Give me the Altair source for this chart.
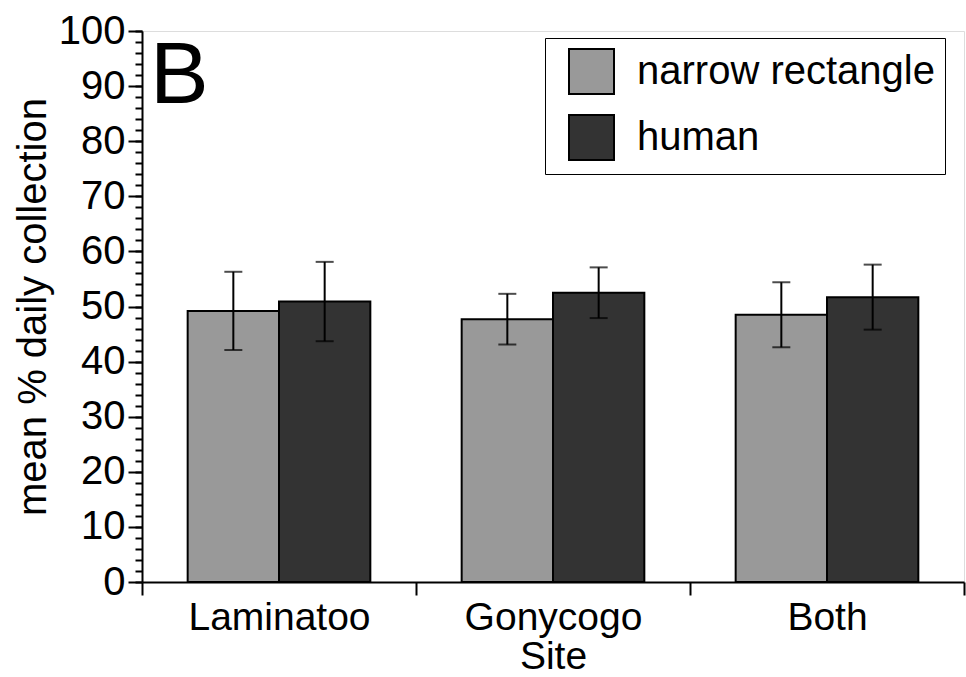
import altair as alt
import pandas as pd

sites = ["Laminatoo", "Gonycogo", "Both"]
series = ["narrow rectangle", "human"]
means_narrow = [49.2, 47.7, 48.5]
means_human = [50.9, 52.5, 51.7]
err_narrow = [7.1, 4.6, 5.9]
err_human = [7.2, 4.6, 5.9]
colors = ["#999999", "#333333"]
y_ticks = list(range(0, 101, 10))
y_minor = list(range(0, 101, 2))
panel_label = ["B"]

rows = []
for i, s in enumerate(sites):
    rows.append({"site": s, "series": series[0], "mean": means_narrow[i], "err": err_narrow[i]})
    rows.append({"site": s, "series": series[1], "mean": means_human[i], "err": err_human[i]})
df = pd.DataFrame(rows)
df["lo"] = df["mean"] - df["err"]
df["hi"] = df["mean"] + df["err"]

FONT = "Liberation Sans"
FS = 39

# site bands fill the full width so axis ticks fall between sites;
# the two bars of a site take the middle two thirds of its band
x_enc = alt.X(
    "site:N",
    sort=sites,
    scale=alt.Scale(paddingInner=0, paddingOuter=0),
    axis=alt.Axis(
        title="Site", labelAngle=0, tickBand="extent", tickSize=13,
        labelPadding=3, titlePadding=0, domainWidth=2, tickWidth=2,
        labelFontSize=FS, titleFontSize=FS, titleFontWeight="normal",
        labelColor="black", titleColor="black", domainColor="black", tickColor="black",
        labelFont=FONT, titleFont=FONT, labelLimit=0,
    ),
)
xo_enc = alt.XOffset("series:N", sort=series, scale=alt.Scale(paddingInner=0, paddingOuter=0.5))
yscale = alt.Scale(domain=[0, 100], nice=False)

bars = alt.Chart(df).mark_bar(stroke="black", strokeWidth=2).encode(
    x=x_enc,
    xOffset=xo_enc,
    y=alt.Y(
        "mean:Q", scale=yscale,
        axis=alt.Axis(
            orient="left", values=y_ticks, title="mean % daily collection",
            tickSize=14, tickWidth=2, labelPadding=3, titlePadding=5,
            domainWidth=2, domainColor="black", tickColor="black", grid=False,
            labelFontSize=40, titleFontSize=40, titleFontWeight="normal",
            labelColor="black", titleColor="black", labelFont=FONT, titleFont=FONT,
        ),
    ),
    fill=alt.Fill(
        "series:N", sort=series,
        scale=alt.Scale(domain=series, range=colors),
        legend=alt.Legend(
            title=None, orient="none", legendX=403, legendY=7,
            strokeColor="black", fillColor="white", padding=10,
            symbolType="square", symbolSize=2025, symbolStrokeColor="black",
            symbolStrokeWidth=2, symbolOffset=13, rowPadding=13, labelOffset=22,
            labelFontSize=40, labelFont=FONT, labelColor="black", labelLimit=0,
        ),
    ),
)

whisk = alt.Chart(df).mark_rule(color="black", strokeWidth=2).encode(
    x=x_enc,
    xOffset=xo_enc,
    y=alt.Y(
        "lo:Q", scale=yscale,
        axis=alt.Axis(
            orient="left", values=y_minor, labels=False, domain=False, title=None,
            tickSize=7, tickWidth=2, tickColor="black", grid=False,
        ),
    ),
    y2="hi:Q",
)

cap_lo = alt.Chart(df).mark_tick(color="black", thickness=2, size=18, orient="horizontal").encode(
    x=x_enc, xOffset=xo_enc, y=alt.Y("lo:Q", scale=yscale, axis=None)
)
cap_hi = alt.Chart(df).mark_tick(color="black", thickness=2, size=18, orient="horizontal").encode(
    x=x_enc, xOffset=xo_enc, y=alt.Y("hi:Q", scale=yscale, axis=None)
)

# panel letter in the upper-left corner of the plot
panel = alt.Chart(pd.DataFrame({"panel": panel_label})).mark_text(
    font=FONT, fontSize=88, align="left", baseline="alphabetic", color="black"
).encode(text="panel:N", x=alt.value(8), y=alt.value(72))

chart = (
    alt.layer(bars, whisk, cap_lo, cap_hi, panel)
    .resolve_axis(y="independent")
    .properties(
        width=822,
        height=551,
        autosize=alt.AutoSizeParams(type="none"),
        padding={"left": 142, "top": 31, "right": 2, "bottom": 95},
    )
    .configure_view(stroke="black", strokeWidth=2)
    .configure_legend(strokeWidth=2)
    .configure(background="white")
)

chart.save("out.html", embed_options={"renderer": "svg", "actions": False})
